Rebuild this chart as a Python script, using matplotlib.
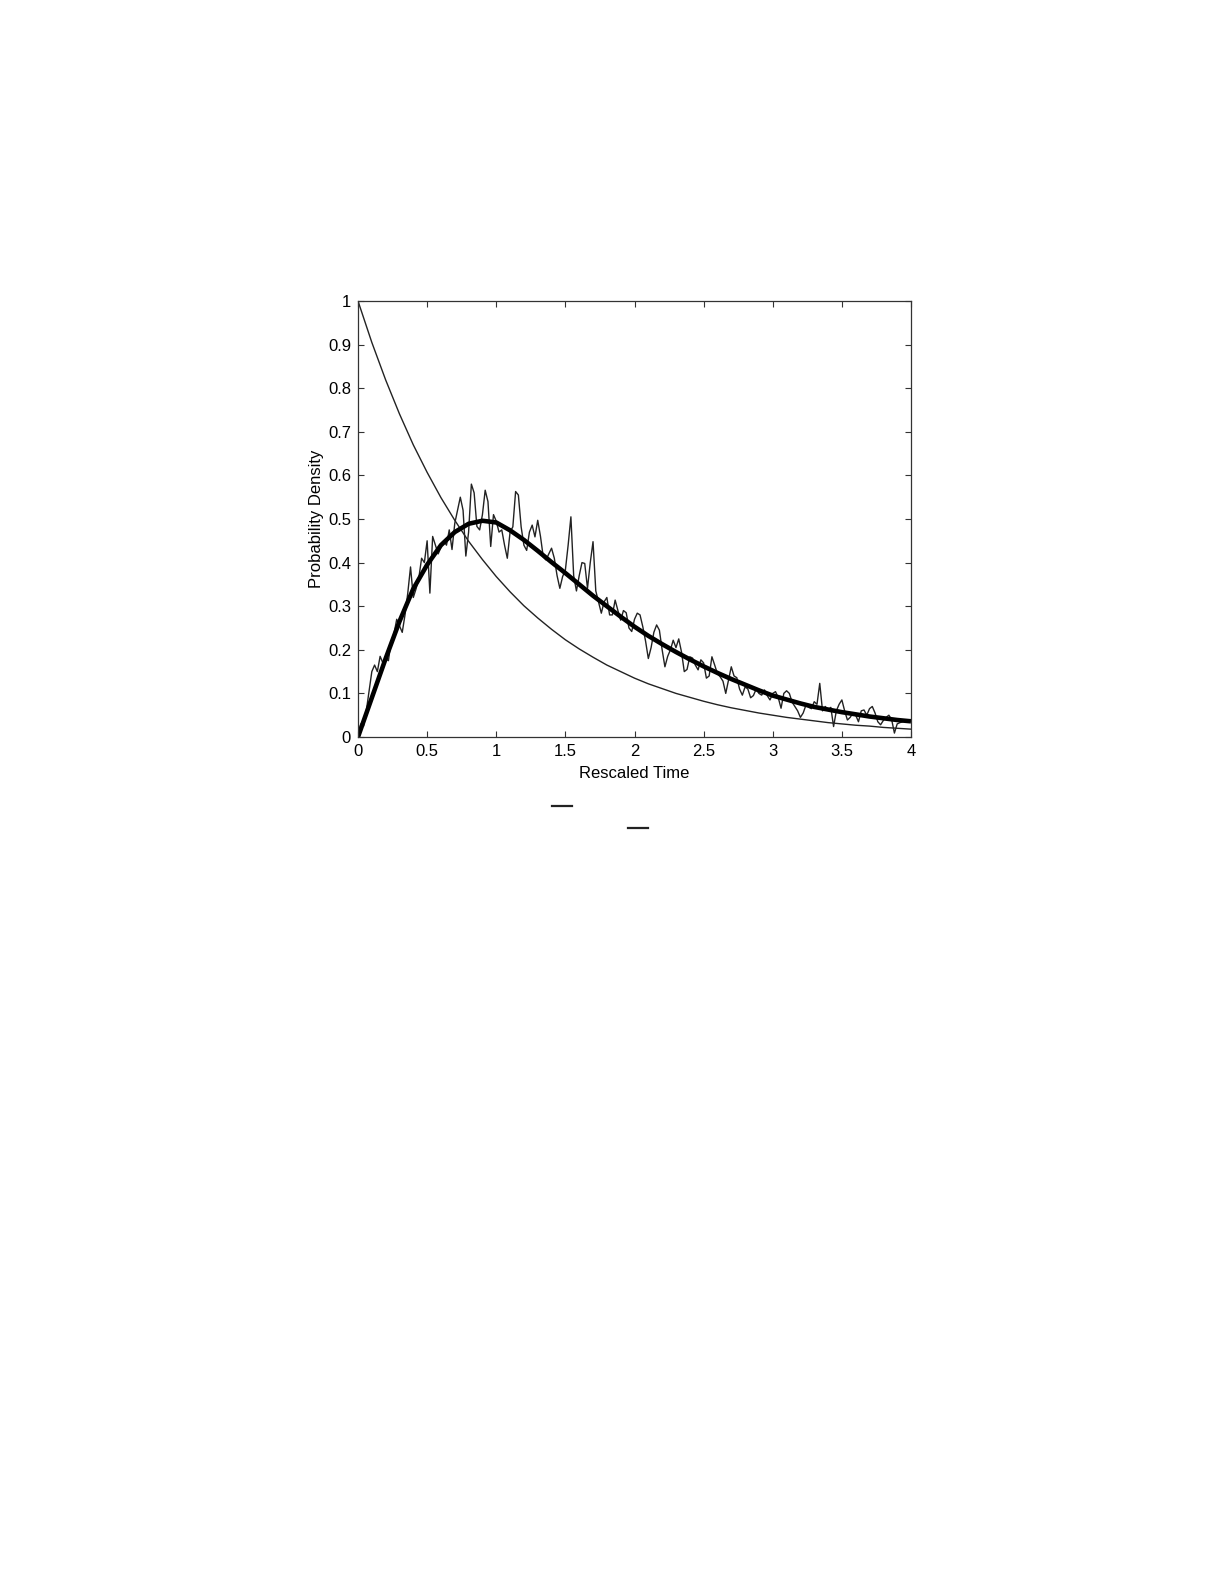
import numpy as np
import matplotlib.pyplot as plt
from matplotlib.lines import Line2D

plt.rcParams['font.family'] = ['Liberation Sans', 'DejaVu Sans']

# smooth curves, read at steps of 0.1 in rescaled time
t_smooth = np.arange(41) / 10
decay = [1.000, 0.905, 0.819, 0.741, 0.670, 0.607, 0.549, 0.497, 0.449, 0.407,
         0.368, 0.333, 0.301, 0.273, 0.247, 0.223, 0.202, 0.183, 0.165, 0.150,
         0.135, 0.122, 0.111, 0.100, 0.091, 0.082, 0.074, 0.067, 0.061, 0.055,
         0.050, 0.045, 0.041, 0.037, 0.033, 0.030, 0.027, 0.025, 0.022, 0.020,
         0.018]
fit = [0.000, 0.090, 0.180, 0.265, 0.340, 0.395, 0.440, 0.470, 0.489, 0.496,
       0.492, 0.474, 0.452, 0.427, 0.401, 0.376, 0.350, 0.324, 0.300, 0.276,
       0.253, 0.232, 0.213, 0.195, 0.178, 0.162, 0.147, 0.133, 0.120, 0.107,
       0.095, 0.086, 0.077, 0.069, 0.063, 0.057, 0.052, 0.047, 0.043, 0.039,
       0.036]

# simulated histogram, steps of 0.02
t_sim = np.arange(201) / 50
sim = [0.000, 0.030, 0.025, 0.060, 0.105, 0.150, 0.165, 0.150, 0.185, 0.170,
       0.180, 0.175, 0.220, 0.236, 0.270, 0.255, 0.240, 0.280, 0.330, 0.390,
       0.320, 0.340, 0.365, 0.410, 0.400, 0.450, 0.330, 0.460, 0.440, 0.420,
       0.435, 0.450, 0.440, 0.475, 0.430, 0.490, 0.520, 0.550, 0.520, 0.415,
       0.470, 0.580, 0.560, 0.483, 0.475, 0.510, 0.566, 0.540, 0.437, 0.510,
       0.495, 0.470, 0.475, 0.440, 0.410, 0.470, 0.482, 0.563, 0.555, 0.482,
       0.440, 0.428, 0.470, 0.486, 0.459, 0.497, 0.460, 0.413, 0.406, 0.420,
       0.433, 0.410, 0.370, 0.341, 0.368, 0.383, 0.440, 0.505, 0.370, 0.335,
       0.370, 0.400, 0.398, 0.341, 0.400, 0.448, 0.335, 0.310, 0.284, 0.310,
       0.320, 0.280, 0.280, 0.314, 0.290, 0.268, 0.290, 0.285, 0.250, 0.242,
       0.270, 0.284, 0.280, 0.253, 0.220, 0.180, 0.205, 0.240, 0.257, 0.245,
       0.200, 0.161, 0.185, 0.200, 0.222, 0.205, 0.225, 0.195, 0.150, 0.155,
       0.184, 0.181, 0.165, 0.154, 0.177, 0.170, 0.135, 0.140, 0.184, 0.165,
       0.145, 0.138, 0.128, 0.100, 0.130, 0.161, 0.140, 0.136, 0.110, 0.096,
       0.115, 0.110, 0.090, 0.095, 0.110, 0.100, 0.096, 0.108, 0.095, 0.085,
       0.100, 0.104, 0.090, 0.066, 0.100, 0.106, 0.100, 0.080, 0.070, 0.060,
       0.045, 0.055, 0.073, 0.068, 0.065, 0.081, 0.075, 0.123, 0.060, 0.070,
       0.062, 0.068, 0.024, 0.060, 0.075, 0.085, 0.060, 0.039, 0.045, 0.055,
       0.050, 0.035, 0.060, 0.062, 0.050, 0.065, 0.070, 0.055, 0.035, 0.028,
       0.038, 0.045, 0.050, 0.040, 0.009, 0.030, 0.033, 0.035, 0.037, 0.039,
       0.040]

x_ticks = [0, 0.5, 1, 1.5, 2, 2.5, 3, 3.5, 4]
x_labels = ['0', '0.5', '1', '1.5', '2', '2.5', '3', '3.5', '4']
y_ticks = [0, 0.1, 0.2, 0.3, 0.4, 0.5, 0.6, 0.7, 0.8, 0.9, 1]
y_labels = ['0', '0.1', '0.2', '0.3', '0.4', '0.5', '0.6', '0.7', '0.8', '0.9', '1']

fig = plt.figure(figsize=(12.25, 15.85), dpi=100)
ax = fig.add_axes([358 / 1225, 1 - 737 / 1585, 553 / 1225, 436 / 1585])

ax.plot(t_smooth, decay, color='#222222', lw=1.0)
ax.plot(t_sim, sim, color='#222222', lw=1.0)
ax.plot(t_smooth, fit, color='black', lw=3.3, solid_capstyle='butt')

ax.set_xlim(0, 4)
ax.set_ylim(0, 1)
ax.set_xticks(x_ticks)
ax.set_xticklabels(x_labels)
ax.set_yticks(y_ticks)
ax.set_yticklabels(y_labels)
ax.tick_params(direction='in', top=True, right=True, length=4, width=0.8,
               labelsize=12, pad=5, color='#333333')
for s in ax.spines.values():
    s.set_linewidth(0.9)
    s.set_color('#333333')

ax.set_xlabel('Rescaled Time', fontsize=12, labelpad=5)
ax.set_ylabel('Probability Density', fontsize=12, labelpad=3)

# leftover overline marks from the caption below the plot
fig.add_artist(Line2D([552 / 1225, 572 / 1225], [1 - 806 / 1585] * 2, color='#222222', lw=1.6))
fig.add_artist(Line2D([628 / 1225, 648 / 1225], [1 - 828 / 1585] * 2, color='#222222', lw=1.6))

fig.savefig('out.png', dpi=100, facecolor='white')
